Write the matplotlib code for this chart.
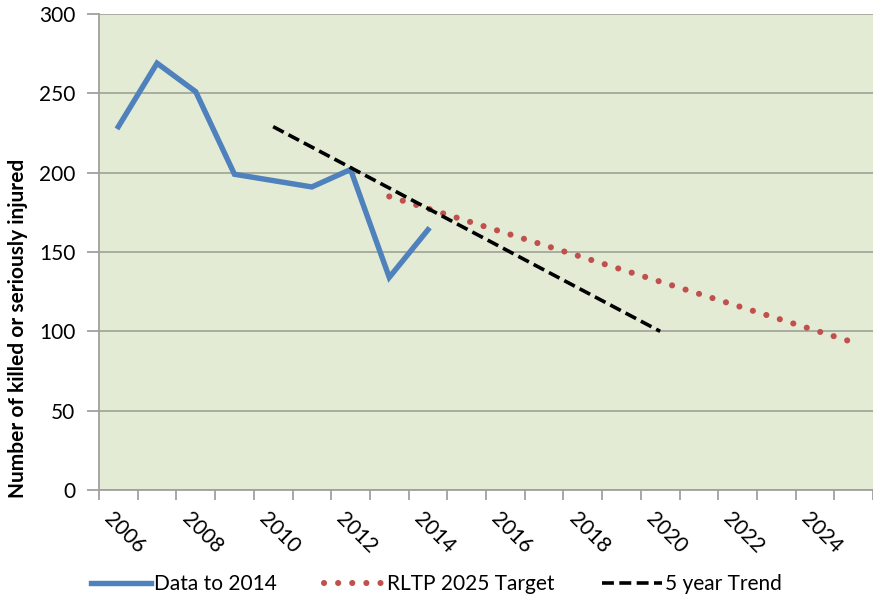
import numpy as np
import matplotlib.pyplot as plt

plt.rcParams['font.family'] = ['Lato', 'DejaVu Sans']

# Category axis: one slot per year
years = list(range(2006, 2026))
tick_years = list(range(2006, 2026, 2))

# Data to 2014
data_years = [2006, 2007, 2008, 2009, 2010, 2011, 2012, 2013, 2014]
data_vals = [229, 269, 251, 199, 195, 191, 202, 134, 164]

# RLTP 2025 Target
target_years = [2013, 2025]
target_vals = [185, 93]

# 5 year Trend
trend_years = [2010, 2020]
trend_vals = [229, 100]


def pos(yrs):
    # centre of each year's category slot
    return [years.index(y) + 0.5 for y in yrs]


fig = plt.figure(figsize=(8.73, 6.0), dpi=100)
ax = fig.add_axes([99 / 873, 110 / 600, 774 / 873, 476 / 600])
ax.set_facecolor('#e4ebd5')

ax.plot(pos(data_years), data_vals, color='#4f81bd', lw=3.9,
        solid_joinstyle='miter', label='Data to 2014', zorder=3)
ax.plot(pos(target_years), target_vals, color='#c0504d', lw=4.4,
        linestyle=(0, (0.01, 2.3)), dash_capstyle='round',
        label='RLTP 2025 Target', zorder=3)
ax.plot(pos(trend_years), trend_vals, color='black', lw=2.6,
        linestyle=(0, (3.3, 1.5)), label='5 year Trend', zorder=4)

ax.set_ylim(0, 300)
ax.set_yticks(np.arange(0, 301, 50))
ax.set_xlim(0, 774 / 39.2)
ax.set_xticks(np.arange(0, len(years) + 1))
ax.set_xticklabels([])
ax.grid(axis='y', color='#a4a89c', lw=1.3)
ax.set_axisbelow(True)

for s in ['top', 'right']:
    ax.spines[s].set_visible(False)
for s in ['left', 'bottom']:
    ax.spines[s].set_color('#a0a0a0')
    ax.spines[s].set_linewidth(1.3)
ax.tick_params(axis='both', color='#a0a0a0', width=1.3, length=7,
               labelsize=15, labelcolor='black')
ax.tick_params(axis='y', length=9, pad=8)

for y in tick_years:
    ax.text(years.index(y) + 0.4, -12, str(y), rotation=-45,
            rotation_mode='anchor', ha='left', va='top', fontsize=15,
            transform=ax.transData, clip_on=False)

ax.set_ylabel('Number of killed or seriously injured', fontsize=15,
              fontweight='bold')
ax.yaxis.set_label_coords(-0.092, 0.34)

fig.legend(loc='center', bbox_to_anchor=(0.5, 0.027), ncol=3,
           frameon=False, fontsize=15, handlelength=2.85,
           handletextpad=0.15, columnspacing=2.3)

fig.savefig('out.png', dpi=100)
